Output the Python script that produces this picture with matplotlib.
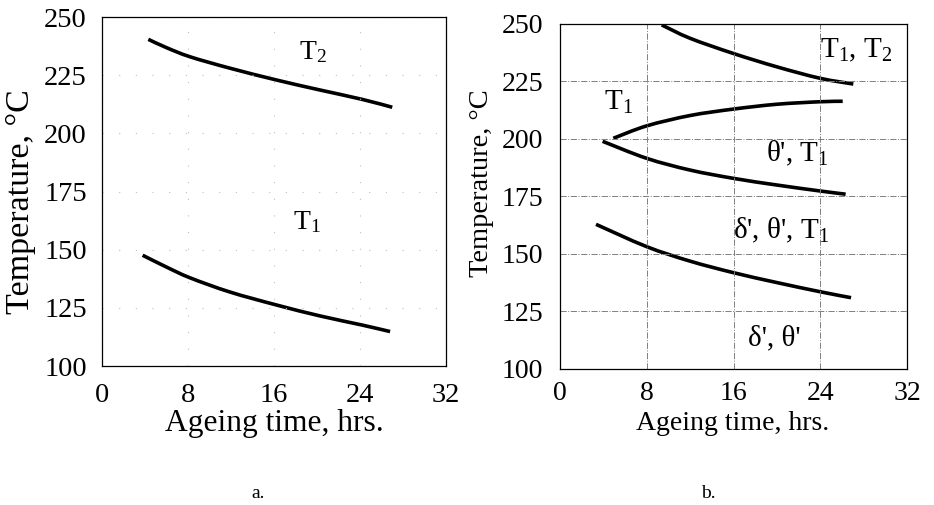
import matplotlib
matplotlib.use("Agg")
import matplotlib.pyplot as plt
from matplotlib.path import Path
from matplotlib.patches import PathPatch

plt.rcParams['font.family'] = ['Liberation Serif', 'DejaVu Serif']
plt.rcParams['mathtext.fontset'] = 'custom'
plt.rcParams['mathtext.rm'] = 'Liberation Serif'
plt.rcParams['mathtext.it'] = 'Liberation Serif'
plt.rcParams['mathtext.bf'] = 'Liberation Serif:bold'

# ---------------- data ----------------
x_ticks = [0, 8, 16, 24, 32]
y_ticks = [100, 125, 150, 175, 200, 225, 250]

# panel a
a_upper_t = [4.31, 6.01, 8.19, 11.9, 16.25, 20.3, 24.2, 27.0]
a_upper_T = [240.4, 236.8, 232.9, 228.0, 222.9, 218.6, 214.6, 211.2]
a_lower_t = [3.78, 6.01, 8.19, 11.9, 16.25, 20.3, 24.2, 26.8]
a_lower_T = [147.6, 142.5, 137.9, 131.8, 126.2, 121.5, 117.6, 114.8]

# panel b
b_A_t = [9.38, 11.99, 15.98, 19.98, 23.98, 27.05]
b_A_T = [249.6, 243.8, 237.2, 231.4, 226.4, 223.9]
b_B_t = [4.92, 7.99, 11.99, 15.98, 19.98, 23.98, 26.07]
b_B_T = [200.3, 205.7, 210.2, 213.0, 215.1, 216.2, 216.4]
b_C_t = [3.93, 7.99, 11.99, 15.98, 19.98, 23.98, 26.34]
b_C_T = [199.0, 191.6, 186.5, 182.9, 180.0, 177.4, 176.0]
b_D_t = [3.32, 7.99, 11.99, 15.98, 19.98, 23.98, 26.84]
b_D_T = [162.9, 153.2, 146.9, 141.9, 137.6, 133.6, 131.0]

a_labels = [r"T$_2$", r"T$_1$"]
a_label_pos = [(19.6, 235.0), (19.1, 161.9)]
b_labels = [r"T$_1$, T$_2$", r"T$_1$", r"θ', T$_1$", r"δ', θ', T$_1$", r"δ', θ'"]
b_label_pos = [(27.3, 238.7), (5.35, 216.1), (21.9, 193.9), (20.4, 160.4), (19.8, 113.5)]

xlabel = "Ageing time, hrs."
ylabel = "Temperature, °C"

# ---------------- figure ----------------
fig = plt.figure(figsize=(9.34, 5.05), dpi=100)
W, H = 934, 505

def axes_px(left, top, right, bottom):
    return fig.add_axes([left / W, 1 - bottom / H, (right - left) / W, (bottom - top) / H])

def smooth_curve(ax, xs, ys, lw=2.6):
    """Draw a smooth (Catmull-Rom as cubic Bezier) curve through the read points."""
    pts = list(zip(xs, ys))
    n = len(pts)
    verts = [pts[0]]
    codes = [Path.MOVETO]
    for i in range(n - 1):
        p0 = pts[i - 1] if i > 0 else pts[i]
        p1 = pts[i]
        p2 = pts[i + 1]
        p3 = pts[i + 2] if i + 2 < n else pts[i + 1]
        c1 = (p1[0] + (p2[0] - p0[0]) / 6.0, p1[1] + (p2[1] - p0[1]) / 6.0)
        c2 = (p2[0] - (p3[0] - p1[0]) / 6.0, p2[1] - (p3[1] - p1[1]) / 6.0)
        verts += [c1, c2, p2]
        codes += [Path.CURVE4] * 3
    patch = PathPatch(Path(verts, codes), facecolor='none', edgecolor='black',
                      lw=lw, capstyle='butt', transform=ax.transData)
    ax.add_patch(patch)

axa = axes_px(102, 17, 446, 366)
axb = axes_px(560, 24, 907, 369)

for ax in (axa, axb):
    ax.set_xlim(0, 32)
    ax.set_ylim(100, 250)
    ax.set_xticks(x_ticks)
    ax.set_yticks(y_ticks)
    for s in ax.spines.values():
        s.set_linewidth(0.9)
        s.set_color('black')

# panel a styling
axa.tick_params(length=0, labelsize=20.5, pad=11)
axa.tick_params(axis='x', pad=12)
axa.grid(True, color='0.75', linestyle=(0, (1, 14)), linewidth=0.8)
smooth_curve(axa, a_upper_t, a_upper_T)
smooth_curve(axa, a_lower_t, a_lower_T)
for lab, (x, y) in zip(a_labels, a_label_pos):
    axa.text(x, y, lab, fontsize=20, ha='center', va='center')

# panel b styling
axb.tick_params(length=0, labelsize=20, pad=12)
axb.tick_params(axis='x', pad=9)
axb.grid(True, color='0.5', linestyle='-.', linewidth=0.7)
for tt, TT in ((b_A_t, b_A_T), (b_B_t, b_B_T), (b_C_t, b_C_T), (b_D_t, b_D_T)):
    smooth_curve(axb, tt, TT)
for lab, (x, y) in zip(b_labels, b_label_pos):
    axb.text(x, y, lab, fontsize=21, ha='center', va='center')

# axis labels
fig.text(274 / W, 1 - 423 / H, xlabel, fontsize=22.7, ha='center', va='center')
fig.text(733 / W, 1 - 423 / H, xlabel, fontsize=20, ha='center', va='center')
fig.text(21 / W, 1 - 202 / H, ylabel, fontsize=24.5, ha='center', va='center', rotation=90)
fig.text(481 / W, 1 - 183 / H, ylabel, fontsize=20.5, ha='center', va='center', rotation=90)

# captions
fig.text(258 / W, 1 - 494 / H, "a.", fontsize=14, ha='center', va='center')
fig.text(708 / W, 1 - 494 / H, "b.", fontsize=14, ha='center', va='center')

fig.savefig("out.png", dpi=100, facecolor='white')
